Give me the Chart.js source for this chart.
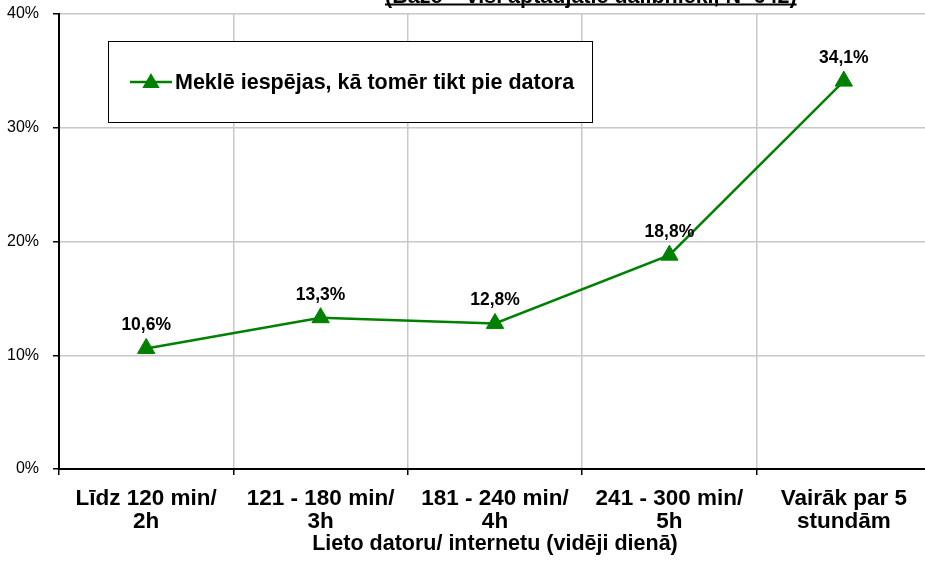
<!DOCTYPE html>
<html>
<head>
<meta charset="utf-8">
<script src="https://cdn.jsdelivr.net/npm/chart.js@4.4.0/dist/chart.umd.min.js"></script>
<style>
  html, body { margin: 0; padding: 0; background: #fff; overflow: hidden; }
  #linechart { display: block; }
</style>
</head>
<body>
<canvas id="linechart" width="942" height="570"></canvas>
<script>
const categories = [
    ['Līdz 120 min/', '2h'],
    ['121 - 180 min/', '3h'],
    ['181 - 240 min/', '4h'],
    ['241 - 300 min/', '5h'],
    ['Vairāk par 5', 'stundām']
];
const seriesLabel = 'Meklē iespējas, kā tomēr tikt pie datora';
const seriesValues = [10.6, 13.3, 12.8, 18.8, 34.1];
const yTicks = [0, 10, 20, 30, 40];
const axisTitle = 'Lieto datoru/ internetu (vidēji dienā)';
const headerText = '(Bāze – visi aptaujātie dalībnieki, N=642)';

const green = '#008000';
const fontFamily = '"Liberation Sans", Arial, sans-serif';

// value labels above each point
const valueLabels = {
    id: 'valueLabels',
    afterDatasetsDraw(chart) {
        const ctx = chart.ctx;
        const meta = chart.getDatasetMeta(0);
        ctx.save();
        ctx.font = 'bold 17.5px ' + fontFamily;
        ctx.fillStyle = '#000';
        ctx.textAlign = 'center';
        ctx.textBaseline = 'middle';
        meta.data.forEach((pt, i) => {
            const txt = seriesValues[i].toFixed(1).replace('.', ',') + '%';
            ctx.fillText(txt, pt.x, pt.y - 23);
        });
        ctx.restore();
    }
};

// boxed legend floating inside the plot + clipped header line
const boxLegend = {
    id: 'boxLegend',
    afterDraw(chart) {
        const ctx = chart.ctx;
        ctx.save();
        // header (only lower part visible, as in the source)
        ctx.font = 'bold 21.5px ' + fontFamily;
        ctx.fillStyle = '#000';
        ctx.textAlign = 'left';
        ctx.textBaseline = 'alphabetic';
        const hx = 385;
        ctx.fillText(headerText, hx, 3);
        const hw = ctx.measureText(headerText).width;
        ctx.fillRect(hx, 3.5, hw, 2);

        // legend box
        ctx.fillStyle = '#fff';
        ctx.fillRect(108, 41, 484, 81);
        ctx.strokeStyle = '#000';
        ctx.lineWidth = 1;
        ctx.strokeRect(108.5, 41.5, 484, 81);

        const ds = chart.data.datasets[0];
        const cy = 82;
        ctx.strokeStyle = ds.borderColor;
        ctx.lineWidth = 2.5;
        ctx.beginPath();
        ctx.moveTo(130, cy);
        ctx.lineTo(172, cy);
        ctx.stroke();
        ctx.fillStyle = ds.pointBackgroundColor;
        ctx.strokeStyle = ds.pointBorderColor;
        Chart.helpers.drawPoint(ctx, {pointStyle: 'triangle', radius: 7.5, borderWidth: 1}, 151, cy + 1);

        ctx.fillStyle = '#000';
        ctx.font = 'bold 21.5px ' + fontFamily;
        ctx.textBaseline = 'middle';
        ctx.fillText(ds.label, 175, cy + 1);
        ctx.restore();
    }
};

const ctx = document.getElementById('linechart').getContext('2d');

const myLineChart = new Chart(ctx, {
    type: 'line',
    data: {
        labels: categories,
        datasets: [{
            label: seriesLabel,
            data: seriesValues,
            borderColor: green,
            backgroundColor: green,
            borderWidth: 2.5,
            pointStyle: 'triangle',
            pointRadius: 10,
            pointHoverRadius: 10,
            pointBackgroundColor: green,
            pointBorderColor: green,
            pointBorderWidth: 1,
            tension: 0
        }]
    },
    options: {
        responsive: false,
        animation: false,
        layout: { padding: { top: 14, right: 0, left: 0, bottom: 0 } },
        plugins: {
            legend: { display: false },
            tooltip: { enabled: false }
        },
        scales: {
            x: {
                offset: true,
                grid: {
                    offset: true,
                    color: '#c8c8c8',
                    lineWidth: 1.5,
                    tickColor: '#000',
                    tickLength: 6
                },
                border: { color: '#000', width: 2 },
                ticks: {
                    color: '#000',
                    maxRotation: 0,
                    autoSkip: false,
                    padding: 12,
                    font: { family: fontFamily, size: 22.5, weight: 'bold', lineHeight: 1.03 }
                },
                title: {
                    display: true,
                    text: axisTitle,
                    color: '#000',
                    padding: { top: 0, bottom: 13 },
                    font: { family: fontFamily, size: 21.5, weight: 'bold', lineHeight: 1.2 }
                },
                afterFit(scale) {
                    scale.height = 101;
                    scale.paddingLeft = 0;
                    scale.paddingRight = 0;
                }
            },
            y: {
                min: 0,
                max: 40,
                afterBuildTicks(scale) { scale.ticks = yTicks.map(v => ({ value: v })); },
                grid: {
                    color: '#c8c8c8',
                    lineWidth: 1.5,
                    tickColor: '#000',
                    tickLength: 6
                },
                border: { color: '#000', width: 2 },
                ticks: {
                    color: '#000',
                    padding: 14,
                    callback: v => v + '%',
                    font: { family: fontFamily, size: 16 }
                },
                afterFit(scale) {
                    scale.width = 59;
                    scale.paddingTop = 0;
                    scale.paddingBottom = 0;
                }
            }
        }
    },
    plugins: [valueLabels, boxLegend]
});
</script>
</body>
</html>
